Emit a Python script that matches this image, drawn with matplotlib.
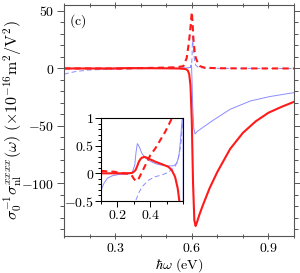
#!/usr/bin/env python3
"""Nonlinear conductivity sigma_nl^xxxx vs photon energy, panel (c), with inset."""

import matplotlib
matplotlib.use('Agg')
import matplotlib.pyplot as plt
from matplotlib.ticker import MultipleLocator, FixedLocator, FuncFormatter

plt.rcParams['mathtext.fontset'] = 'cm'
plt.rcParams['font.family'] = 'serif'
plt.rcParams['font.size'] = 10

RED = '#ff1a1a'
BLUE = '#8c8cff'

# red solid (thick)
rs_x = [0.10, 0.15, 0.20, 0.25, 0.28, 0.29, 0.30, 0.31, 0.32, 0.33, 0.34, 0.35,
        0.365, 0.38, 0.40, 0.43, 0.47, 0.51, 0.53, 0.55, 0.566, 0.576, 0.58,
        0.585, 0.59, 0.595, 0.60, 0.605, 0.61, 0.615, 0.62, 0.63, 0.645, 0.67,
        0.70, 0.75, 0.80, 0.85, 0.90, 0.95, 1.00]
rs_y = [0.0, 0.0, 0.0, 0.0, 0.005, 0.01, 0.03, 0.06, 0.13, 0.21, 0.26, 0.285,
        0.297, 0.28, 0.25, 0.21, 0.165, 0.117, 0.057, -0.063, -0.27, -0.5, -1.0,
        -2.0, -5.0, -15.0, -45.0, -100.0, -132.0, -137.0, -134.0, -127.0, -118.0, -104.0,
        -90.0, -70.0, -56.0, -46.0, -38.5, -33.5, -29.0]

# red dashed (thick)
rd_x = [0.10, 0.12, 0.15, 0.18, 0.21, 0.24, 0.27, 0.285, 0.30, 0.313, 0.32, 0.33,
        0.35, 0.37, 0.40, 0.43, 0.46, 0.49, 0.51, 0.53, 0.55, 0.567, 0.58, 0.589,
        0.595, 0.60, 0.603, 0.606, 0.611, 0.616, 0.625, 0.632, 0.65, 0.70, 0.80, 1.00]
rd_y = [0.045, 0.04, 0.03, 0.03, 0.01, 0.0, -0.01, -0.03, -0.10, -0.14, -0.13, -0.09,
        0.03, 0.15, 0.33, 0.45, 0.60, 0.75, 0.87, 0.99, 1.4, 2.0, 9.0, 23.0,
        36.0, 49.0, 40.0, 27.0, 15.0, 9.0, 4.0, 2.0, 0.7, 0.2, 0.05, 0.0]

# blue solid (thin)
bs_x = [0.10, 0.105, 0.118, 0.138, 0.168, 0.208, 0.269, 0.289, 0.305, 0.313, 0.321,
        0.333, 0.349, 0.369, 0.399, 0.429, 0.469, 0.51, 0.54, 0.56, 0.574, 0.582,
        0.59, 0.594, 0.597, 0.599, 0.601, 0.604, 0.608, 0.613, 0.62, 0.645, 0.684,
        0.75, 0.83, 0.906, 1.00]
bs_y = [-0.36, -0.27, -0.18, -0.09, -0.045, -0.02, -0.01, 0.01, 0.147, 0.387, 0.537,
        0.477, 0.357, 0.279, 0.219, 0.177, 0.147, 0.135, 0.135, 0.177, 0.33, 0.57,
        0.87, 1.0, 3.0, 2.0, -10.0, -35.0, -52.0, -57.0, -55.0, -51.0, -45.0,
        -35.5, -28.2, -24.4, -21.0]

# blue dashed (thin)
bd_x = [0.10, 0.123, 0.15, 0.20, 0.25, 0.29, 0.31, 0.33, 0.35, 0.39, 0.43, 0.47,
        0.51, 0.55, 0.57, 0.585, 0.593, 0.599, 0.601, 0.603, 0.606, 0.61, 0.615,
        0.625, 0.65, 0.70, 1.00]
bd_y = [-5.0, -3.7, -2.5, -1.3, -0.9, -0.6, -0.5, -0.35, -0.24, -0.12, -0.06, -0.03,
        0.02, 0.12, 0.27, 0.51, 0.81, 1.0, 10.0, 28.0, 18.0, 8.0, 3.0,
        1.0, 0.3, 0.1, 0.0]

inset_xticks = [0.2, 0.4]


def math_fmt(v, pos):
    return '$%g$' % v


def draw_curves(ax):
    ax.plot(bd_x, bd_y, color=BLUE, lw=0.7, ls=(0, (5, 3)))
    ax.plot(bs_x, bs_y, color=BLUE, lw=0.7)
    ax.plot(rd_x, rd_y, color=RED, lw=1.5, ls=(0, (3, 2)))
    ax.plot(rs_x, rs_y, color=RED, lw=1.5)


fig = plt.figure(figsize=(3.0, 2.73), dpi=100)
ax = fig.add_axes([0.2133, 0.1355, 0.7667, 0.8462])
draw_curves(ax)
ax.set_xlim(0.1, 1.0)
ax.set_ylim(-145.7, 55.2)
ax.xaxis.set_major_locator(MultipleLocator(0.3))
ax.xaxis.set_minor_locator(MultipleLocator(0.1))
ax.yaxis.set_major_locator(MultipleLocator(50))
ax.yaxis.set_minor_locator(MultipleLocator(10))
ax.xaxis.set_major_formatter(FuncFormatter(math_fmt))
ax.yaxis.set_major_formatter(FuncFormatter(math_fmt))
for s in ax.spines.values():
    s.set_color('#555555')
    s.set_linewidth(0.8)
ax.tick_params(axis='y', which='both', direction='out', left=True, right=True,
               color='#555555', width=0.7, pad=2)
ax.tick_params(axis='x', which='both', direction='inout', top=True, bottom=True,
               color='#555555', width=0.7, pad=1)
ax.tick_params(which='major', length=5)
ax.tick_params(which='minor', length=3)
ax.set_xlabel(r'$\hbar\omega\ (\mathrm{eV})$', fontsize=10.2, va='baseline')
ax.xaxis.set_label_coords(0.5, -0.139)
ax.set_ylabel(r'$\sigma_0^{-1}\sigma_{\rm nl}^{xxxx}(\omega)\ (\times 10^{-16}{\rm m}^2/{\rm V}^2)$',
              fontsize=11.5)
ax.yaxis.set_label_coords(-0.174, 0.5)
ax.text(0.022, 0.97, r'$(\mathrm{c})$', transform=ax.transAxes, ha='left', va='top')

ins = fig.add_axes([0.3367, 0.2637, 0.2743, 0.3041])
draw_curves(ins)
ins.set_xlim(0.1, 0.6)
ins.set_ylim(-0.5, 1.0)
ins.xaxis.set_major_locator(FixedLocator(inset_xticks))
ins.xaxis.set_minor_locator(MultipleLocator(0.1))
ins.yaxis.set_major_locator(MultipleLocator(0.5))
ins.yaxis.set_minor_locator(MultipleLocator(0.1))
ins.xaxis.set_major_formatter(FuncFormatter(math_fmt))
ins.yaxis.set_major_formatter(FuncFormatter(math_fmt))
for s in ins.spines.values():
    s.set_linewidth(0.8)
ins.tick_params(which='both', direction='out', width=0.7, pad=1)
ins.tick_params(which='major', length=4)
ins.tick_params(which='minor', length=2.5)

fig.savefig('out.png', dpi=100)
